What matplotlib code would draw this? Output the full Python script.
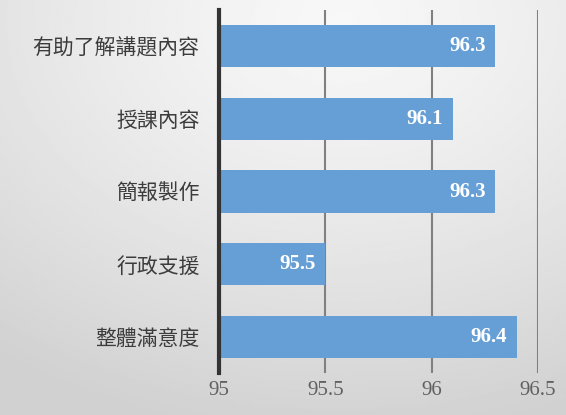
import numpy as np
import matplotlib.pyplot as plt

plt.rcParams['font.family'] = ['Noto Sans CJK TC', 'DejaVu Sans']

categories = ['有助了解講題內容', '授課內容', '簡報製作', '行政支援', '整體滿意度']
scores = [96.3, 96.1, 96.3, 95.5, 96.4]
xticks = [95, 95.5, 96, 96.5]
xtick_labels = ['95', '95.5', '96', '96.5']

fig = plt.figure(figsize=(5.66, 4.15), dpi=100)

# soft gray radial background
bg = fig.add_axes([0, 0, 1, 1], zorder=-10)
yy, xx = np.mgrid[0:1:200j, 0:1:280j]
r = np.sqrt(((xx - 0.6) / 1.0) ** 2 + ((yy - 0.05) / 1.0) ** 2)
shade = 0.97 - 0.15 * np.clip(r, 0, 1) ** 1.3
bg.imshow(shade, cmap='gray', vmin=0, vmax=1, aspect='auto', extent=[0, 1, 1, 0])
bg.axis('off')

ax = fig.add_axes([0.387, 0.101, 0.5635, 0.875])
ax.set_facecolor('none')
ypos = np.arange(len(categories))
ax.barh(ypos, [s - xticks[0] for s in scores], left=xticks[0], height=0.58,
        color='#659fd6', zorder=2)

for y, s in zip(ypos, scores):
    ax.text(s - 0.045, y, '%.1f' % s, ha='right', va='center', color='white',
            fontsize=15, fontweight='bold', family='Liberation Serif', zorder=3)

ax.set_xlim(95, 96.5)
ax.set_ylim(len(categories) - 0.5, -0.5)
ax.set_yticks(ypos)
ax.set_yticklabels(categories, fontsize=15, color='#3c3c3c')
ax.set_xticks(xticks)
ax.set_xticklabels(xtick_labels, fontsize=15, color='#606060', family='Liberation Serif')
ax.tick_params(axis='both', length=0)
ax.tick_params(axis='y', pad=14)
ax.tick_params(axis='x', pad=6)

ax.grid(axis='x', color='#808080', linewidth=1.5, zorder=0)
ax.set_axisbelow(True)
for side in ['top', 'right', 'bottom']:
    ax.spines[side].set_visible(False)
ax.spines['left'].set_color('#333333')
ax.spines['left'].set_linewidth(3)
ax.spines['left'].set_zorder(4)

fig.savefig('out.png', dpi=100)
